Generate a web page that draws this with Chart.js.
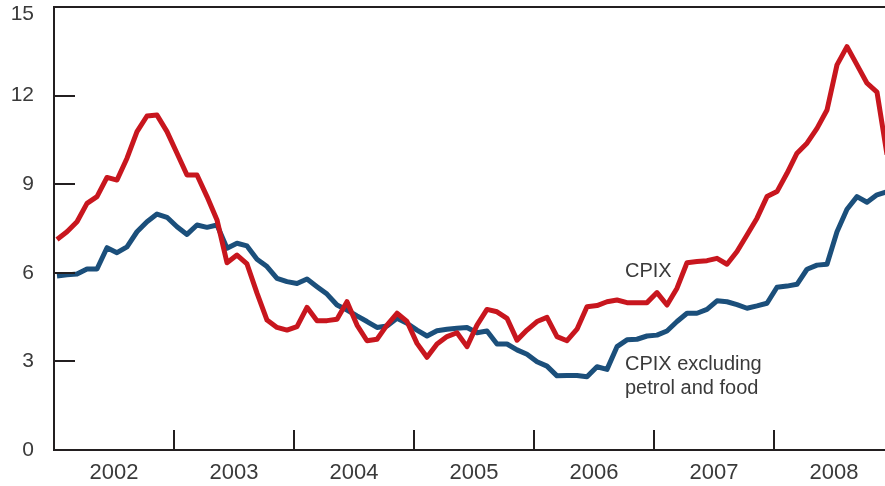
<!DOCTYPE html>
<html>
<head>
<meta charset="utf-8">
<script src="https://cdn.jsdelivr.net/npm/chart.js@4.4.0/dist/chart.umd.min.js"></script>
<style>
    html, body { margin: 0; padding: 0; background: #fff; }
    #wrap { width: 885px; height: 486px; }
</style>
</head>
<body>
<div id="wrap"><canvas id="cpixChart" width="885" height="486"></canvas></div>
<script>
// Monthly, Jan 2002 - Dec 2008 (per cent, year-on-year)
const yearLabels = ['2002', '2003', '2004', '2005', '2006', '2007', '2008'];
const yTicks = [0, 3, 6, 9, 12, 15];

const cpix = [
    7.13, 7.39, 7.73, 8.35, 8.58, 9.23, 9.14, 9.88, 10.78, 11.31, 11.34, 10.78,
    10.05, 9.31, 9.31, 8.58, 7.79, 6.34, 6.60, 6.30, 5.31, 4.40, 4.15, 4.06,
    4.18, 4.83, 4.38, 4.38, 4.43, 5.02, 4.23, 3.70, 3.75, 4.23, 4.63, 4.35,
    3.61, 3.14, 3.59, 3.84, 3.97, 3.50, 4.23, 4.76, 4.68, 4.46, 3.72, 4.06,
    4.35, 4.49, 3.84, 3.70, 4.09, 4.85, 4.89, 5.02, 5.08, 4.99, 4.99, 4.99,
    5.33, 4.91, 5.48, 6.34, 6.38, 6.41, 6.49, 6.29, 6.72, 7.28, 7.85, 8.58,
    8.75, 9.37, 10.05, 10.39, 10.89, 11.51, 13.04, 13.66, 13.04, 12.42, 12.12, 10.0
];

const cpixCore = [
    5.89, 5.93, 5.96, 6.13, 6.13, 6.85, 6.68, 6.88, 7.39, 7.73, 7.99, 7.88,
    7.56, 7.30, 7.62, 7.54, 7.62, 6.83, 7.00, 6.91, 6.46, 6.21, 5.81, 5.70,
    5.64, 5.79, 5.53, 5.28, 4.91, 4.74, 4.54, 4.35, 4.15, 4.20, 4.46, 4.29,
    4.06, 3.86, 4.04, 4.09, 4.12, 4.15, 3.97, 4.03, 3.59, 3.59, 3.39, 3.24,
    2.99, 2.84, 2.51, 2.52, 2.52, 2.48, 2.82, 2.73, 3.50, 3.73, 3.75, 3.86,
    3.89, 4.03, 4.35, 4.63, 4.63, 4.76, 5.05, 5.02, 4.92, 4.80, 4.88, 4.97,
    5.51, 5.55, 5.61, 6.12, 6.26, 6.29, 7.39, 8.15, 8.58, 8.39, 8.64, 8.74
];

const RED = '#c8161e';
const BLUE = '#1b4f7b';
const INK = '#231f20';
const TEXT = '#3a3a3a';
const FONT = '"Liberation Sans", Arial, sans-serif';

// month index -> x position (mid-ish of the month)
const toPoints = arr => arr.map((v, i) => ({ x: i + 0.3, y: v }));

// frame, inward tick marks, y labels and line labels
const framePlugin = {
    id: 'frame',
    afterDraw(chart) {
        const { ctx, chartArea: a, scales } = chart;
        const x = scales.x, y = scales.y;
        ctx.save();
        ctx.strokeStyle = INK;
        ctx.lineWidth = 2;
        ctx.beginPath();
        ctx.moveTo(a.right, a.top);
        ctx.lineTo(a.left, a.top);
        ctx.lineTo(a.left, a.bottom);
        ctx.lineTo(a.right, a.bottom);
        ctx.stroke();

        ctx.beginPath();
        yTicks.forEach(v => {
            if (v === 0 || v === 15) return;
            const py = Math.round(y.getPixelForValue(v));
            ctx.moveTo(a.left, py);
            ctx.lineTo(a.left + 21, py);
        });
        for (let k = 1; k < yearLabels.length; k++) {
            const px = Math.round(x.getPixelForValue(k * 12));
            ctx.moveTo(px, a.bottom);
            ctx.lineTo(px, a.bottom - 20);
        }
        ctx.stroke();

        ctx.fillStyle = TEXT;
        ctx.font = '21px ' + FONT;
        ctx.textAlign = 'right';
        ctx.textBaseline = 'middle';
        yTicks.forEach(v => {
            const py = Math.max(y.getPixelForValue(v), 14);
            ctx.fillText(String(v), a.left - 20, py);
        });

        ctx.font = '20px ' + FONT;
        ctx.textAlign = 'left';
        ctx.fillText('CPIX', x.getPixelForValue(57.1), y.getPixelForValue(6.04));
        ctx.fillText('CPIX excluding', x.getPixelForValue(57.1), y.getPixelForValue(2.91));
        ctx.fillText('petrol and food', x.getPixelForValue(57.1), y.getPixelForValue(2.07));
        ctx.restore();
    }
};

const ctx = document.getElementById('cpixChart').getContext('2d');
new Chart(ctx, {
    type: 'line',
    data: {
        datasets: [
            {
                label: 'CPIX',
                data: toPoints(cpix),
                borderColor: RED,
                borderWidth: 5,
                borderJoinStyle: 'round',
                pointRadius: 0,
                tension: 0
            },
            {
                label: 'CPIX excluding petrol and food',
                data: toPoints(cpixCore),
                borderColor: BLUE,
                borderWidth: 5,
                borderJoinStyle: 'round',
                pointRadius: 0,
                tension: 0
            }
        ]
    },
    options: {
        responsive: false,
        animation: false,
        devicePixelRatio: 1,
        layout: { padding: { top: 7, left: 0, right: 0, bottom: 0 } },
        plugins: {
            legend: { display: false },
            tooltip: { enabled: false }
        },
        scales: {
            x: {
                type: 'linear',
                min: 0,
                max: 83.1,
                grid: { display: false, drawTicks: false },
                border: { display: false },
                afterBuildTicks: scale => {
                    scale.ticks = yearLabels.map((_, k) => ({ value: k * 12 + 6 }));
                },
                afterFit: scale => {
                    scale.height = 36;
                    scale.paddingLeft = 0;
                    scale.paddingRight = 0;
                },
                ticks: {
                    autoSkip: false,
                    maxRotation: 0,
                    padding: 10,
                    color: TEXT,
                    font: { family: FONT, size: 22 },
                    callback: v => yearLabels[Math.round((v - 6) / 12)]
                }
            },
            y: {
                min: 0,
                max: 15,
                grid: { display: false, drawTicks: false },
                border: { display: false },
                ticks: { display: false, stepSize: 3 },
                afterFit: scale => {
                    scale.width = 54;
                    scale.paddingTop = 0;
                    scale.paddingBottom = 0;
                }
            }
        }
    },
    plugins: [framePlugin]
});
</script>
</body>
</html>
